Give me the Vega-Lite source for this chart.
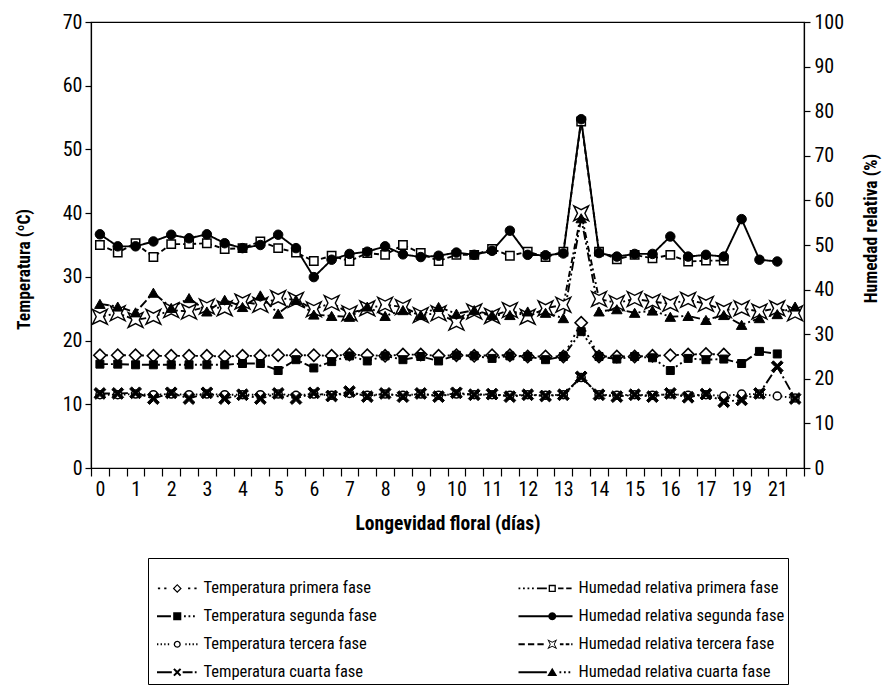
{
  "$schema": "https://vega.github.io/schema/vega-lite/v6.json",
  "width": 713,
  "height": 446,
  "autosize": "none",
  "padding": {"left": 91, "top": 22, "right": 82, "bottom": 226},
  "background": "white",
  "datasets": {
    "temp": [
      {"s":"T1","i":0,"v":17.7},{"s":"T1","i":1,"v":17.7},{"s":"T1","i":2,"v":17.7},{"s":"T1","i":3,"v":17.6},{"s":"T1","i":4,"v":17.6},{"s":"T1","i":5,"v":17.6},{"s":"T1","i":6,"v":17.6},{"s":"T1","i":7,"v":17.5},
      {"s":"T1","i":8,"v":17.6},{"s":"T1","i":9,"v":17.6},{"s":"T1","i":10,"v":17.7},{"s":"T1","i":11,"v":17.7},{"s":"T1","i":12,"v":17.7},{"s":"T1","i":13,"v":17.6},{"s":"T1","i":14,"v":17.8},{"s":"T1","i":15,"v":17.7},
      {"s":"T1","i":16,"v":17.6},{"s":"T1","i":17,"v":17.8},{"s":"T1","i":18,"v":17.8},{"s":"T1","i":19,"v":17.6},{"s":"T1","i":20,"v":17.7},{"s":"T1","i":21,"v":17.6},{"s":"T1","i":22,"v":17.7},{"s":"T1","i":23,"v":17.7},
      {"s":"T1","i":24,"v":17.5},{"s":"T1","i":25,"v":17.5},{"s":"T1","i":26,"v":17.5},{"s":"T1","i":27,"v":22.8},{"s":"T1","i":28,"v":17.5},{"s":"T1","i":29,"v":17.5},{"s":"T1","i":30,"v":17.5},{"s":"T1","i":31,"v":17.6},
      {"s":"T1","i":32,"v":17.7},{"s":"T1","i":33,"v":17.8},{"s":"T1","i":34,"v":17.9},{"s":"T1","i":35,"v":17.8},
      {"s":"T2","i":0,"v":16.3},{"s":"T2","i":1,"v":16.3},{"s":"T2","i":2,"v":16.2},{"s":"T2","i":3,"v":16.2},{"s":"T2","i":4,"v":16.2},{"s":"T2","i":5,"v":16.2},{"s":"T2","i":6,"v":16.2},{"s":"T2","i":7,"v":16.2},
      {"s":"T2","i":8,"v":16.4},{"s":"T2","i":9,"v":16.4},{"s":"T2","i":10,"v":15.3},{"s":"T2","i":11,"v":17.0},{"s":"T2","i":12,"v":15.7},{"s":"T2","i":13,"v":16.7},{"s":"T2","i":14,"v":17.6},{"s":"T2","i":15,"v":16.8},
      {"s":"T2","i":16,"v":17.6},{"s":"T2","i":17,"v":17.0},{"s":"T2","i":18,"v":17.5},{"s":"T2","i":19,"v":16.8},{"s":"T2","i":20,"v":17.7},{"s":"T2","i":21,"v":17.6},{"s":"T2","i":22,"v":17.2},{"s":"T2","i":23,"v":17.6},
      {"s":"T2","i":24,"v":17.5},{"s":"T2","i":25,"v":17.0},{"s":"T2","i":26,"v":17.5},{"s":"T2","i":27,"v":21.4},{"s":"T2","i":28,"v":17.5},{"s":"T2","i":29,"v":17.1},{"s":"T2","i":30,"v":17.5},{"s":"T2","i":31,"v":17.3},
      {"s":"T2","i":32,"v":15.3},{"s":"T2","i":33,"v":17.2},{"s":"T2","i":34,"v":17.0},{"s":"T2","i":35,"v":17.1},{"s":"T2","i":36,"v":16.4},{"s":"T2","i":37,"v":18.3},{"s":"T2","i":38,"v":17.9},
      {"s":"T3","i":0,"v":11.5},{"s":"T3","i":1,"v":11.5},{"s":"T3","i":2,"v":11.6},{"s":"T3","i":3,"v":11.5},{"s":"T3","i":4,"v":11.6},{"s":"T3","i":5,"v":11.5},{"s":"T3","i":6,"v":11.6},{"s":"T3","i":7,"v":11.5},
      {"s":"T3","i":8,"v":11.5},{"s":"T3","i":9,"v":11.5},{"s":"T3","i":10,"v":11.6},{"s":"T3","i":11,"v":11.4},{"s":"T3","i":12,"v":11.6},{"s":"T3","i":13,"v":11.4},{"s":"T3","i":14,"v":11.7},{"s":"T3","i":15,"v":11.4},
      {"s":"T3","i":16,"v":11.6},{"s":"T3","i":17,"v":11.4},{"s":"T3","i":18,"v":11.6},{"s":"T3","i":19,"v":11.4},{"s":"T3","i":20,"v":11.6},{"s":"T3","i":21,"v":11.5},{"s":"T3","i":22,"v":11.5},{"s":"T3","i":23,"v":11.4},
      {"s":"T3","i":24,"v":11.5},{"s":"T3","i":25,"v":11.4},{"s":"T3","i":26,"v":11.5},{"s":"T3","i":27,"v":14.2},{"s":"T3","i":28,"v":11.5},{"s":"T3","i":29,"v":11.4},{"s":"T3","i":30,"v":11.5},{"s":"T3","i":31,"v":11.4},
      {"s":"T3","i":32,"v":11.6},{"s":"T3","i":33,"v":11.4},{"s":"T3","i":34,"v":11.5},{"s":"T3","i":35,"v":11.3},{"s":"T3","i":36,"v":11.6},{"s":"T3","i":37,"v":11.6},{"s":"T3","i":38,"v":11.3},{"s":"T3","i":39,"v":11.0},
      {"s":"T4","i":0,"v":11.7},{"s":"T4","i":1,"v":11.7},{"s":"T4","i":2,"v":11.8},{"s":"T4","i":3,"v":10.9},{"s":"T4","i":4,"v":11.8},{"s":"T4","i":5,"v":10.9},{"s":"T4","i":6,"v":11.8},{"s":"T4","i":7,"v":10.9},
      {"s":"T4","i":8,"v":11.5},{"s":"T4","i":9,"v":10.9},{"s":"T4","i":10,"v":11.7},{"s":"T4","i":11,"v":10.9},{"s":"T4","i":12,"v":11.8},{"s":"T4","i":13,"v":11.3},{"s":"T4","i":14,"v":12.0},{"s":"T4","i":15,"v":11.2},
      {"s":"T4","i":16,"v":11.7},{"s":"T4","i":17,"v":11.2},{"s":"T4","i":18,"v":11.7},{"s":"T4","i":19,"v":11.2},{"s":"T4","i":20,"v":11.8},{"s":"T4","i":21,"v":11.5},{"s":"T4","i":22,"v":11.6},{"s":"T4","i":23,"v":11.2},
      {"s":"T4","i":24,"v":11.5},{"s":"T4","i":25,"v":11.3},{"s":"T4","i":26,"v":11.5},{"s":"T4","i":27,"v":14.3},{"s":"T4","i":28,"v":11.5},{"s":"T4","i":29,"v":11.2},{"s":"T4","i":30,"v":11.5},{"s":"T4","i":31,"v":11.2},
      {"s":"T4","i":32,"v":11.7},{"s":"T4","i":33,"v":11.1},{"s":"T4","i":34,"v":11.6},{"s":"T4","i":35,"v":10.4},{"s":"T4","i":36,"v":10.7},{"s":"T4","i":37,"v":11.7},{"s":"T4","i":38,"v":15.9},{"s":"T4","i":39,"v":10.9}
    ],
    "hum": [
      {"s":"H1","i":0,"v":50.0},{"s":"H1","i":1,"v":48.3},{"s":"H1","i":2,"v":50.4},{"s":"H1","i":3,"v":47.3},{"s":"H1","i":4,"v":50.2},{"s":"H1","i":5,"v":50.2},{"s":"H1","i":6,"v":50.4},{"s":"H1","i":7,"v":49.1},
      {"s":"H1","i":8,"v":49.3},{"s":"H1","i":9,"v":50.8},{"s":"H1","i":10,"v":49.3},{"s":"H1","i":11,"v":48.3},{"s":"H1","i":12,"v":46.4},{"s":"H1","i":13,"v":47.6},{"s":"H1","i":14,"v":46.4},{"s":"H1","i":15,"v":48.2},
      {"s":"H1","i":16,"v":47.8},{"s":"H1","i":17,"v":50.0},{"s":"H1","i":18,"v":48.2},{"s":"H1","i":19,"v":46.4},{"s":"H1","i":20,"v":47.8},{"s":"H1","i":21,"v":47.8},{"s":"H1","i":22,"v":49.1},{"s":"H1","i":23,"v":47.6},
      {"s":"H1","i":24,"v":48.5},{"s":"H1","i":25,"v":47.3},{"s":"H1","i":26,"v":48.5},{"s":"H1","i":27,"v":77.7},{"s":"H1","i":28,"v":48.5},{"s":"H1","i":29,"v":46.8},{"s":"H1","i":30,"v":47.8},{"s":"H1","i":31,"v":47.0},
      {"s":"H1","i":32,"v":47.8},{"s":"H1","i":33,"v":46.3},{"s":"H1","i":34,"v":46.5},{"s":"H1","i":35,"v":46.5},
      {"s":"H2","i":0,"v":52.4},{"s":"H2","i":1,"v":49.7},{"s":"H2","i":2,"v":49.7},{"s":"H2","i":3,"v":50.8},{"s":"H2","i":4,"v":52.3},{"s":"H2","i":5,"v":51.5},{"s":"H2","i":6,"v":52.4},{"s":"H2","i":7,"v":50.4},
      {"s":"H2","i":8,"v":49.3},{"s":"H2","i":9,"v":50.0},{"s":"H2","i":10,"v":52.3},{"s":"H2","i":11,"v":49.3},{"s":"H2","i":12,"v":42.8},{"s":"H2","i":13,"v":46.7},{"s":"H2","i":14,"v":48.0},{"s":"H2","i":15,"v":48.5},
      {"s":"H2","i":16,"v":49.7},{"s":"H2","i":17,"v":47.9},{"s":"H2","i":18,"v":47.3},{"s":"H2","i":19,"v":47.6},{"s":"H2","i":20,"v":48.3},{"s":"H2","i":21,"v":47.8},{"s":"H2","i":22,"v":48.7},{"s":"H2","i":23,"v":53.2},
      {"s":"H2","i":24,"v":47.8},{"s":"H2","i":25,"v":47.7},{"s":"H2","i":26,"v":48.1},{"s":"H2","i":27,"v":78.2},{"s":"H2","i":28,"v":48.2},{"s":"H2","i":29,"v":47.4},{"s":"H2","i":30,"v":48.0},{"s":"H2","i":31,"v":48.0},
      {"s":"H2","i":32,"v":51.9},{"s":"H2","i":33,"v":47.4},{"s":"H2","i":34,"v":47.8},{"s":"H2","i":35,"v":47.4},{"s":"H2","i":36,"v":55.8},{"s":"H2","i":37,"v":46.7},{"s":"H2","i":38,"v":46.3},
      {"s":"H3","i":0,"v":33.9},{"s":"H3","i":1,"v":34.7},{"s":"H3","i":2,"v":33.2},{"s":"H3","i":3,"v":33.9},{"s":"H3","i":4,"v":35.4},{"s":"H3","i":5,"v":35.1},{"s":"H3","i":6,"v":36.2},{"s":"H3","i":7,"v":35.8},
      {"s":"H3","i":8,"v":37.3},{"s":"H3","i":9,"v":36.6},{"s":"H3","i":10,"v":38.1},{"s":"H3","i":11,"v":37.7},{"s":"H3","i":12,"v":35.6},{"s":"H3","i":13,"v":37.0},{"s":"H3","i":14,"v":34.7},{"s":"H3","i":15,"v":35.8},
      {"s":"H3","i":16,"v":36.6},{"s":"H3","i":17,"v":36.1},{"s":"H3","i":18,"v":34.3},{"s":"H3","i":19,"v":34.7},{"s":"H3","i":20,"v":32.6},{"s":"H3","i":21,"v":35.1},{"s":"H3","i":22,"v":34.1},{"s":"H3","i":23,"v":35.4},
      {"s":"H3","i":24,"v":33.9},{"s":"H3","i":25,"v":35.8},{"s":"H3","i":26,"v":36.6},{"s":"H3","i":27,"v":57.1},{"s":"H3","i":28,"v":37.9},{"s":"H3","i":29,"v":37.0},{"s":"H3","i":30,"v":37.9},{"s":"H3","i":31,"v":37.3},
      {"s":"H3","i":32,"v":36.8},{"s":"H3","i":33,"v":37.7},{"s":"H3","i":34,"v":36.8},{"s":"H3","i":35,"v":35.4},{"s":"H3","i":36,"v":35.8},{"s":"H3","i":37,"v":35.1},{"s":"H3","i":38,"v":35.8},{"s":"H3","i":39,"v":34.7},
      {"s":"H4","i":0,"v":36.8},{"s":"H4","i":1,"v":36.2},{"s":"H4","i":2,"v":34.9},{"s":"H4","i":3,"v":39.3},{"s":"H4","i":4,"v":35.9},{"s":"H4","i":5,"v":38.1},{"s":"H4","i":6,"v":35.1},{"s":"H4","i":7,"v":37.7},
      {"s":"H4","i":8,"v":36.1},{"s":"H4","i":9,"v":38.7},{"s":"H4","i":10,"v":34.6},{"s":"H4","i":11,"v":37.7},{"s":"H4","i":12,"v":34.4},{"s":"H4","i":13,"v":34.1},{"s":"H4","i":14,"v":33.9},{"s":"H4","i":15,"v":36.2},
      {"s":"H4","i":16,"v":34.1},{"s":"H4","i":17,"v":35.4},{"s":"H4","i":18,"v":34.3},{"s":"H4","i":19,"v":36.1},{"s":"H4","i":20,"v":34.6},{"s":"H4","i":21,"v":35.4},{"s":"H4","i":22,"v":34.3},{"s":"H4","i":23,"v":34.3},
      {"s":"H4","i":24,"v":35.1},{"s":"H4","i":25,"v":34.8},{"s":"H4","i":26,"v":33.6},{"s":"H4","i":27,"v":56.0},{"s":"H4","i":28,"v":35.1},{"s":"H4","i":29,"v":35.6},{"s":"H4","i":30,"v":34.8},{"s":"H4","i":31,"v":35.3},
      {"s":"H4","i":32,"v":33.9},{"s":"H4","i":33,"v":34.1},{"s":"H4","i":34,"v":33.2},{"s":"H4","i":35,"v":34.3},{"s":"H4","i":36,"v":32.1},{"s":"H4","i":37,"v":33.6},{"s":"H4","i":38,"v":34.5},{"s":"H4","i":39,"v":36.2}
    ]
  },
  "encoding": {
    "x": {
      "field": "i",
      "type": "quantitative",
      "scale": {"domain": [-0.5, 39.5], "nice": false, "zero": false},
      "axis": {
        "title": "Longevidad floral (días)",
        "titleFontSize": 19.5,
        "values": [-0.5,0,0.5,1.5,2,2.5,3.5,4,4.5,5.5,6,6.5,7.5,8,8.5,9.5,10,10.5,11.5,12,12.5,13.5,14,14.5,15.5,16,16.5,17.5,18,18.5,19.5,20,20.5,21.5,22,22.5,23.5,24,24.5,25.5,26,26.5,27.5,28,28.5,29.5,30,30.5,31.5,32,32.5,33.5,34,34.5,35.5,36,36.5,37.5,38,38.5,39.5],
        "labelExpr": "(datum.value % 2 === 0) ? (datum.value <= 34 ? format(datum.value / 2, 'd') : (datum.value === 36 ? '19' : '21')) : ''",
        "tickOpacity": {"condition": {"test": "datum.value % 1 !== 0", "value": 1}, "value": 0},
        "tickSize": 8,
        "labelPadding": 3,
        "labelOverlap": false,
        "labelFlush": false,
        "labelBound": false,
        "titlePadding": 15
      }
    }
  },
  "layer": [
    {
      "data": {"name": "temp"},
      "encoding": {
        "y": {
          "field": "v",
          "type": "quantitative",
          "scale": {"domain": [0, 70], "nice": false, "zero": true},
          "axis": {"orient": "left", "title": "Temperatura (ºC)", "titleFontSize": 17.5, "titleY": 247, "values": [0,10,20,30,40,50,60,70], "tickSize": 6, "labelPadding": 3, "titlePadding": 29}
        }
      },
      "layer": [
        {
          "mark": {"type": "line", "color": "black", "strokeWidth": 1.9},
          "encoding": {
            "strokeDash": {
              "field": "s", "type": "nominal",
              "scale": {"domain": ["H1","H2","H3","H4","T1","T2","T3","T4"], "range": [[5,3],[1,0],[6,3,2,3],[9,3,2,3,2,3],[2,4],[8,3,2,3,2,3],[1.5,2.5],[10,3,2,3]]},
              "legend": null
            }
          }
        },
        {"transform": [{"filter": "datum.s == 'T1'"}], "mark": {"type": "point", "shape": "diamond", "filled": true, "fill": "white", "stroke": "black", "strokeWidth": 1.6, "size": 150, "opacity": 1}},
        {"transform": [{"filter": "datum.s == 'T2'"}], "mark": {"type": "point", "shape": "square", "filled": true, "fill": "black", "stroke": "black", "strokeWidth": 1, "size": 64, "opacity": 1}},
        {"transform": [{"filter": "datum.s == 'T3'"}], "mark": {"type": "point", "shape": "circle", "filled": true, "fill": "white", "stroke": "black", "strokeWidth": 1.5, "size": 64, "opacity": 1}},
        {"transform": [{"filter": "datum.s == 'T4'"}], "mark": {"type": "point", "shape": "M-1,-0.65L-0.65,-1L0,-0.35L0.65,-1L1,-0.65L0.35,0L1,0.65L0.65,1L0,0.35L-0.65,1L-1,0.65L-0.35,0Z", "filled": true, "fill": "black", "stroke": "black", "strokeWidth": 1, "size": 140, "opacity": 1}}
      ]
    },
    {
      "data": {"name": "hum"},
      "encoding": {
        "y": {
          "field": "v",
          "type": "quantitative",
          "scale": {"domain": [0, 100], "nice": false, "zero": true},
          "axis": {"orient": "right", "title": "Humedad relativa (%)", "titleFontSize": 17.5, "titleY": 206, "values": [0,10,20,30,40,50,60,70,80,90,100], "tickSize": 6, "labelPadding": 4, "titlePadding": 19, "titleAngle": 270, "titleBaseline": "top"}
        }
      },
      "layer": [
        {
          "mark": {"type": "line", "color": "black", "strokeWidth": 1.9},
          "encoding": {
            "strokeDash": {
              "field": "s", "type": "nominal",
              "scale": {"domain": ["H1","H2","H3","H4","T1","T2","T3","T4"], "range": [[5,3],[1,0],[6,3,2,3],[9,3,2,3,2,3],[2,4],[8,3,2,3,2,3],[1.5,2.5],[10,3,2,3]]},
              "legend": null
            }
          }
        },
        {"transform": [{"filter": "datum.s == 'H1'"}], "mark": {"type": "point", "shape": "square", "filled": true, "fill": "white", "stroke": "black", "strokeWidth": 1.5, "size": 70, "opacity": 1}},
        {"transform": [{"filter": "datum.s == 'H2'"}], "mark": {"type": "point", "shape": "circle", "filled": true, "fill": "black", "stroke": "black", "strokeWidth": 1, "size": 90, "opacity": 1}},
        {"transform": [{"filter": "datum.s == 'H3'"}], "mark": {"type": "point", "shape": "M-1,-1L0,-0.5L1,-1L0.5,0L1,1L0,0.5L-1,1L-0.5,0Z", "filled": true, "fill": "white", "stroke": "black", "strokeWidth": 1.4, "size": 220, "opacity": 1}},
        {"transform": [{"filter": "datum.s == 'H4'"}], "mark": {"type": "point", "shape": "triangle-up", "filled": true, "fill": "black", "stroke": "black", "strokeWidth": 1, "size": 110, "opacity": 1}}
      ]
    },
    {
      "data": {"name": "temp"},
      "transform": [{"filter": "false"}],
      "mark": {"type": "point", "filled": true, "color": "black", "opacity": 1, "strokeWidth": 0},
      "encoding": {
        "shape": {
          "field": "s",
          "type": "nominal",
          "scale": {
            "domain": ["T1","T2","T3","T4","H1","H2","H3","H4"],
            "range": [
              "M-0.3,-0.2H0.2V0.2H-0.3Z M1.1,-0.2H1.6V0.2H1.1Z M4,-1L5,0L4,1L3,0Z M4,-0.62L3.38,0L4,0.62L4.62,0Z M6.4,-0.2H6.9V0.2H6.4Z M7.8,-0.2H8.3V0.2H7.8Z",
              "M-0.5,-0.2H2.6V0.2H-0.5Z M3.1,-0.9H4.9V0.9H3.1Z M5.5,-0.2H5.9V0.2H5.5Z M6.5,-0.2H6.9V0.2H6.5Z M7.5,-0.2H7.9V0.2H7.5Z",
              "M-0.5,-0.2H-0.2V0.2H-0.5Z M0.3,-0.2H0.6V0.2H0.3Z M1.1,-0.2H1.4V0.2H1.1Z M1.9,-0.2H2.2V0.2H1.9Z M4.8,0L4.69,0.4L4.4,0.69L4,0.8L3.6,0.69L3.31,0.4L3.2,0L3.31,-0.4L3.6,-0.69L4,-0.8L4.4,-0.69L4.69,-0.4Z M4.5,0L4.43,-0.25L4.25,-0.43L4,-0.5L3.75,-0.43L3.57,-0.25L3.5,0L3.57,0.25L3.75,0.43L4,0.5L4.25,0.43L4.43,0.25Z M5.8,-0.2H6.1V0.2H5.8Z M6.6,-0.2H6.9V0.2H6.6Z M7.4,-0.2H7.7V0.2H7.4Z M8.2,-0.2H8.5V0.2H8.2Z",
              "M-0.5,-0.2H2.8V0.2H-0.5Z M3.1,-0.585L3.415,-0.9L4,-0.315L4.585,-0.9L4.9,-0.585L4.315,0L4.9,0.585L4.585,0.9L4,0.315L3.415,0.9L3.1,0.585L3.685,0Z M5.2,-0.2H7.4V0.2H5.2Z M7.9,-0.2H8.3V0.2H7.9Z",
              "M-3.5,-0.2H-3.1V0.2H-3.5Z M-2.5,-0.2H-2.1V0.2H-2.5Z M-1.5,-0.2H-1.1V0.2H-1.5Z M-0.5,-0.2H-0.1V0.2H-0.5Z M0.6,-0.2H2.8V0.2H0.6Z M3.2,-0.8H4.8V0.8H3.2Z M3.5,-0.5V0.5H4.5V-0.5Z M5.3,-0.2H6.5V0.2H5.3Z M7.1,-0.2H8.3V0.2H7.1Z",
              "M-3.5,-0.2H3.3V0.2H-3.5Z M4.9,0L4.78,0.45L4.45,0.78L4,0.9L3.55,0.78L3.22,0.45L3.1,0L3.22,-0.45L3.55,-0.78L4,-0.9L4.45,-0.78L4.78,-0.45Z M4.7,-0.2H8.5V0.2H4.7Z",
              "M-3.5,-0.2H-2.1V0.2H-3.5Z M-1.4,-0.2H0.0V0.2H-1.4Z M0.7,-0.2H2.1V0.2H0.7Z M2.9,-1.1L4,-0.55L5.1,-1.1L4.55,0L5.1,1.1L4,0.55L2.9,1.1L3.45,0Z M3.67,0L3.34,0.66L4,0.33L4.66,0.66L4.33,0L4.66,-0.66L4,-0.33L3.34,-0.66Z M5.7,-0.2H6.5V0.2H5.7Z M7.0,-0.2H7.8V0.2H7.0Z M8.2,-0.2H8.5V0.2H8.2Z",
              "M-3.5,-0.2H2.8V0.2H-3.5Z M4,-1L5.1,0.85H2.9Z M5.6,-0.2H6.0V0.2H5.6Z M6.6,-0.2H7.0V0.2H6.6Z M7.6,-0.2H8.0V0.2H7.6Z"
            ]
          },
          "legend": {
            "title": " ",
            "titleFontSize": 8,
            "titlePadding": 11,
            "orient": "none",
            "legendX": 57,
            "legendY": 536,
            "columns": 2,
            "columnPadding": 141,
            "rowPadding": 11,
            "padding": 3,
            "strokeColor": "black",
            "fillColor": "white",
            "symbolSize": 81,
            "symbolFillColor": "black",
            "symbolStrokeWidth": 0,
            "symbolOpacity": 1,
            "labelOffset": 36,
            "labelFont": "Roboto Condensed, DejaVu Sans Condensed, Roboto, sans-serif",
            "labelFontSize": 16.5,
            "labelColor": "black",
            "labelLimit": 300,
            "labelExpr": "datum.label == 'T1' ? 'Temperatura primera fase' : datum.label == 'T2' ? 'Temperatura segunda fase' : datum.label == 'T3' ? 'Temperatura tercera fase' : datum.label == 'T4' ? 'Temperatura cuarta fase' : datum.label == 'H1' ? 'Humedad relativa primera fase' : datum.label == 'H2' ? 'Humedad relativa segunda fase' : datum.label == 'H3' ? 'Humedad relativa tercera fase' : 'Humedad relativa cuarta fase'"
          }
        }
      }
    }
  ],
  "resolve": {"scale": {"y": "independent"}},
  "config": {
    "font": "Roboto Condensed, DejaVu Sans Condensed, Roboto, sans-serif",
    "view": {"stroke": "black", "strokeWidth": 1.2},
    "axis": {
      "grid": false,
      "domainColor": "black",
      "domainWidth": 1.2,
      "tickColor": "black",
      "tickWidth": 1.2,
      "labelColor": "black",
      "titleColor": "black",
      "labelFont": "Roboto Condensed, DejaVu Sans Condensed, Roboto, sans-serif",
      "titleFont": "Roboto Condensed, DejaVu Sans Condensed, Roboto, sans-serif",
      "labelFontSize": 20,
      "titleFontSize": 16,
      "titleFontWeight": "bold"
    }
  }
}
